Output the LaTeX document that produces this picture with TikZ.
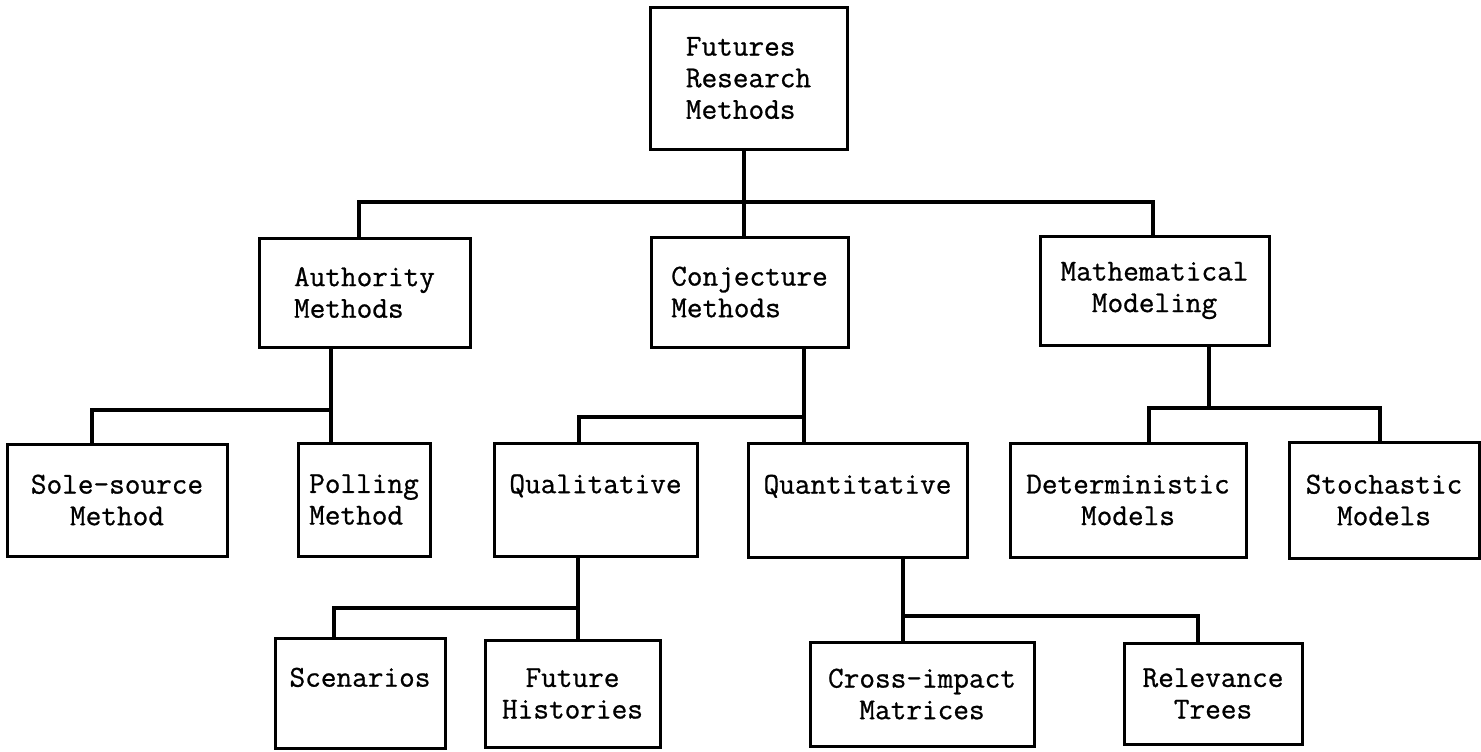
\documentclass[tikz,border=0pt]{standalone}
\usepackage{fontspec}
\newfontfamily\typew{Latin Modern Mono}[FakeBold=0.8]
\begin{document}
\begin{tikzpicture}[x=0.5pt,y=-0.5pt,
  box/.style={draw, line width=1.5pt, inner sep=0pt, font=\fontsize{15.2}{15.8}\selectfont\typew},
  link/.style={line width=1.6pt}]
\useasboundingbox (0,0) rectangle (1481,751);
% level 0
\node[box, align=left, minimum width=98.5pt, minimum height=71pt] (root) at (748.5,78) {Futures\\Research\\Methods};
% level 1
\node[box, align=left, minimum width=105.5pt, minimum height=54.5pt] (auth) at (364.5,292.5) {Authority\\Methods};
\node[box, align=left, minimum width=98.5pt, minimum height=55pt] (conj) at (749.5,292) {Conjecture\\Methods};
\node[box, align=center, minimum width=114.5pt, minimum height=54.5pt] (math) at (1154.5,290.5) {Mathematical\\Modeling};
% level 2
\node[box, align=center, minimum width=110pt, minimum height=56pt] (sole) at (117,500) {Sole-source\\Method};
\node[box, align=left, minimum width=66pt, minimum height=56.5pt] (poll) at (364,499.5) {Polling\\Method};
\node[box, align=center, minimum width=101.5pt, minimum height=56.5pt] (qual) at (595.5,499.5) {Qualitative\\\phantom{X}};
\node[box, align=center, minimum width=109.5pt, minimum height=57pt] (quant) at (857.5,500) {Quantitative\\\phantom{X}};
\node[box, align=center, minimum width=118pt, minimum height=57pt] (det) at (1128,500) {Deterministic\\Models};
\node[box, align=center, minimum width=95pt, minimum height=58pt] (sto) at (1384,500) {Stochastic\\Models};
% level 3
\node[box, align=center, minimum width=85pt, minimum height=55pt] (scen) at (360,693) {Scenarios\\\phantom{X}};
\node[box, align=center, minimum width=87.5pt, minimum height=53.5pt] (fut) at (572.5,693.5) {Future\\Histories};
\node[box, align=center, minimum width=112pt, minimum height=52pt] (cross) at (922,694) {Cross-impact\\Matrices};
\node[box, align=center, minimum width=89pt, minimum height=50.5pt] (rel) at (1213,693.5) {Relevance\\Trees};
% bar coordinates
\coordinate (b0) at (744,202);
\coordinate (b1L) at (359,202);
\coordinate (b1R) at (1153,202);
\coordinate (b2L) at (92,410);
\coordinate (b2R) at (331,410);
\coordinate (b3L) at (579,417);
\coordinate (b3R) at (804,417);
\coordinate (b4L) at (334,608);
\coordinate (b4R) at (578,608);
\coordinate (b5L) at (903,616);
\coordinate (b5R) at (1198,616);
\coordinate (b6M) at (1209,408);
\coordinate (b6L) at (1149,408);
\coordinate (b6R) at (1380,408);
% connectors
\draw[link] (root.south -| b0) -- (conj.north -| b0);
\draw[link] (auth.north -| b1L) -- (b1L) -- (b1R) -- (math.north -| b1R);
\draw[link] (auth.south -| b2R) -- (poll.north -| b2R);
\draw[link] (sole.north -| b2L) -- (b2L) -- (b2R);
\draw[link] (conj.south -| b3R) -- (quant.north -| b3R);
\draw[link] (qual.north -| b3L) -- (b3L) -- (b3R);
\draw[link] (qual.south -| b4R) -- (fut.north -| b4R);
\draw[link] (scen.north -| b4L) -- (b4L) -- (b4R);
\draw[link] (quant.south -| b5L) -- (cross.north -| b5L);
\draw[link] (b5L) -- (b5R) -- (rel.north -| b5R);
\draw[link] (math.south -| b6M) -- (b6M);
\draw[link] (det.north -| b6L) -- (b6L) -- (b6R) -- (sto.north -| b6R);
\end{tikzpicture}
\end{document}
